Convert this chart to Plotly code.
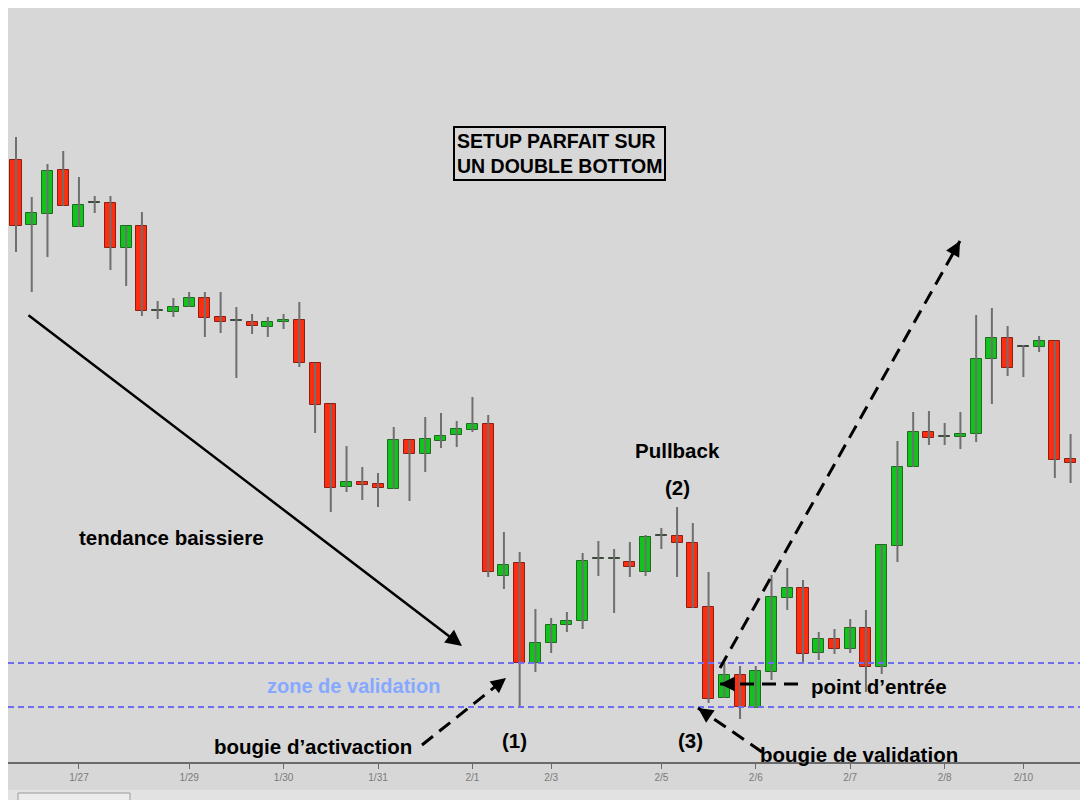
import plotly.graph_objects as go

# OHLC per candle (index 0..68)
opens = [84.0, 77.5, 78.6, 83.0, 77.3, 79.7, 79.7, 75.2, 77.4, 68.9,
         68.8, 69.3, 70.2, 68.3, 67.9, 67.8, 67.3, 67.8, 68.0, 63.7,
         59.6, 51.3, 51.8, 51.6, 51.1, 56.0, 54.6, 55.9, 56.5, 57.0,
         57.6, 42.4, 43.7, 33.7, 35.7, 37.5, 37.9, 44.1, 44.1, 43.8,
         42.8, 46.4, 46.4, 45.7, 39.3, 30.2, 32.5, 29.2, 32.8, 40.2,
         41.2, 34.7, 36.1, 35.1, 37.2, 33.3, 45.4, 53.3, 56.8, 56.3,
         56.3, 56.6, 64.1, 66.2, 65.3, 65.3, 65.9, 54.1, 53.7]
highs = [86.3, 80.3, 83.6, 84.9, 82.3, 80.4, 80.4, 77.4, 78.8, 69.9,
         70.2, 70.8, 70.8, 70.8, 69.3, 68.6, 68.3, 68.6, 69.8, 63.7,
         59.6, 55.4, 53.3, 52.7, 57.3, 56.0, 58.3, 58.7, 57.9, 60.3,
         58.5, 46.8, 44.8, 39.1, 38.2, 38.8, 44.7, 45.9, 45.1, 45.8,
         46.5, 47.2, 49.3, 47.7, 42.8, 33.7, 33.4, 33.4, 42.5, 43.2,
         42.0, 36.8, 37.1, 38.1, 39.0, 45.5, 55.9, 58.8, 58.9, 57.7,
         58.8, 68.5, 69.2, 67.4, 65.5, 66.4, 65.9, 56.6, 56.3]
lows = [74.8, 70.8, 74.3, 79.4, 77.3, 78.7, 73.0, 71.4, 68.4, 68.1,
        68.3, 69.3, 66.3, 66.7, 62.2, 66.6, 66.3, 67.1, 63.3, 56.7,
        48.8, 50.8, 50.0, 49.3, 51.1, 49.9, 52.8, 55.2, 55.3, 56.8,
        42.3, 41.1, 29.2, 32.8, 34.7, 36.8, 37.1, 42.4, 38.7, 42.3,
        42.4, 45.1, 42.3, 39.2, 29.7, 30.2, 28.1, 29.2, 32.0, 39.0,
        33.6, 34.0, 34.6, 34.7, 30.8, 32.6, 43.8, 53.3, 55.5, 55.5,
        55.1, 55.8, 59.6, 62.4, 62.3, 64.8, 52.2, 51.7, 49.8]
closes = [77.4, 78.7, 82.9, 79.4, 79.5, 79.8, 75.2, 77.4, 68.9, 68.95,
          69.3, 70.2, 68.2, 67.8, 67.9, 67.4, 67.8, 68.0, 63.7, 59.5,
          51.2, 51.8, 51.5, 51.2, 56.0, 54.6, 56.1, 56.4, 57.1, 57.6,
          42.8, 43.5, 33.7, 35.7, 37.5, 37.9, 43.9, 44.1, 44.1, 43.3,
          46.3, 46.4, 45.7, 39.2, 30.1, 32.5, 29.3, 32.9, 40.3, 41.2,
          34.6, 36.1, 35.1, 37.2, 33.3, 45.5, 53.3, 56.8, 56.2, 56.3,
          56.6, 64.1, 66.2, 63.2, 65.3, 65.9, 54.0, 53.7, 52.8]

tick_idx = [4, 11, 17, 23, 29, 34, 41, 47, 53, 59, 64]
tick_txt = ["1/27", "1/29", "1/30", "1/31", "2/1", "2/3", "2/5", "2/6", "2/7", "2/8", "2/10"]

zone_top, zone_bot = 33.7, 29.3

BG = "#d7d7d7"
RED, GREEN = "#ff2d10", "#10c41c"
RED_EDGE, GREEN_EDGE = "#8a2014", "#1f6a1f"


# page pixel -> data / paper helpers, used only to place annotations
def X(px):
    return (px - 16) / 15.74


def Y(py):
    return 100 - py / 10


def PX(px):
    return (px - 8) / 1080


def PY(py):
    return (762 - py) / 754


idx = list(range(len(opens)))
bases, heights, fills, edges = [], [], [], []
for o, c in zip(opens, closes):
    bases.append(min(o, c))
    heights.append(max(abs(c - o), 0.12))
    up = c >= o
    if abs(c - o) < 0.15:
        fills.append("#3d4a3d")
        edges.append("#3d4a3d")
    else:
        fills.append(GREEN if up else RED)
        edges.append(GREEN_EDGE if up else RED_EDGE)

wx, wy = [], []
for i, h, l in zip(idx, highs, lows):
    wx += [i, i, None]
    wy += [h, l, None]

fig = go.Figure()
fig.add_trace(go.Scatter(x=wx, y=wy, mode="lines",
                         line={"color": "#6f6f6f", "width": 2},
                         hoverinfo="skip", showlegend=False))
fig.add_trace(go.Bar(x=idx, y=heights, base=bases, width=0.7,
                     marker={"color": fills, "line": {"color": edges, "width": 1}},
                     showlegend=False))

# validation zone
for lvl in (zone_top, zone_bot):
    fig.add_shape(type="line", xref="paper", yref="y", x0=0, x1=1, y0=lvl, y1=lvl,
                  line={"color": "#6f6ff0", "width": 2, "dash": "6px,4px"}, layer="above")

# bottom strip with scroll box
fig.add_shape(type="rect", xref="paper", yref="paper", x0=PX(8), x1=PX(1088),
              y0=PY(800), y1=PY(790), fillcolor="#e2e2e2", line={"width": 0}, layer="above")
fig.add_shape(type="rect", xref="paper", yref="paper", x0=PX(18), x1=PX(130),
              y0=PY(801), y1=PY(793), fillcolor="#ececec",
              line={"width": 1, "color": "#9a9a9a"}, layer="above")

# main trend arrow
fig.add_annotation(x=X(462), y=Y(646), ax=X(27), ay=Y(314), axref="x", ayref="y",
                   text="", showarrow=True, arrowhead=2, arrowsize=1.3,
                   arrowwidth=2.5, arrowcolor="black")

# dashed arrows: (tail px, tip px)
dashed = [((422, 745), (506, 678)),
          ((720, 668), (960, 241)),
          ((798, 684), (720, 684)),
          ((762, 752), (698, 708))]
for (tx, ty), (hx, hy) in dashed:
    fig.add_shape(type="line", xref="x", yref="y",
                  x0=X(tx), y0=Y(ty), x1=X(hx), y1=Y(hy),
                  line={"color": "black", "width": 3, "dash": "14px,8px"}, layer="above")
    dx, dy = tx - hx, ty - hy
    n = (dx * dx + dy * dy) ** 0.5
    fig.add_annotation(x=X(hx), y=Y(hy), ax=dx / n * 14, ay=dy / n * 14,
                       text="", showarrow=True, arrowhead=2, arrowsize=1.2,
                       arrowwidth=2.5, arrowcolor="black")

FONT = "Liberation Sans, Arial, sans-serif"
labels = [
    ("tendance baissiere", 171, 537),
    ("Pullback", 677, 450),
    ("(2)", 677, 487),
    ("(1)", 514, 740),
    ("(3)", 690, 740),
    ("bougie d\u2019activaction", 313, 746),
    ("point d\u2019entr\u00e9e", 879, 686),
    ("bougie de validation", 859, 754),
]
for txt, px, py in labels:
    fig.add_annotation(x=X(px), y=Y(py), text=f"<b>{txt}</b>", showarrow=False,
                       font={"family": FONT, "size": 20.5, "color": "black"})

fig.add_annotation(x=X(353), y=Y(686), text="<b>zone de validation</b>", showarrow=False,
                   font={"family": FONT, "size": 20, "color": "#86a8ff"})

fig.add_annotation(x=X(559), y=Y(153), text="<b>SETUP PARFAIT SUR<br>UN DOUBLE BOTTOM</b>",
                   showarrow=False, align="left", bordercolor="black", borderwidth=2,
                   borderpad=2, font={"family": FONT, "size": 19.5, "color": "black"})

fig.update_layout(
    width=1080, height=792,
    margin={"l": 0, "r": 0, "t": 0, "b": 38},
    paper_bgcolor=BG, plot_bgcolor=BG,
    bargap=0,
    xaxis={"range": [X(8), X(1088)], "tickvals": tick_idx, "ticktext": tick_txt,
           "showgrid": False, "zeroline": False, "showline": True,
           "linecolor": "#6a6a6a", "linewidth": 2, "ticks": "outside",
           "ticklen": 5, "tickcolor": "#6a6a6a",
           "tickfont": {"family": FONT, "size": 10, "color": "#7a7a7a"}},
    yaxis={"range": [Y(762), Y(8)], "visible": False},
    hovermode=False,
)

fig.write_html("out.html")
